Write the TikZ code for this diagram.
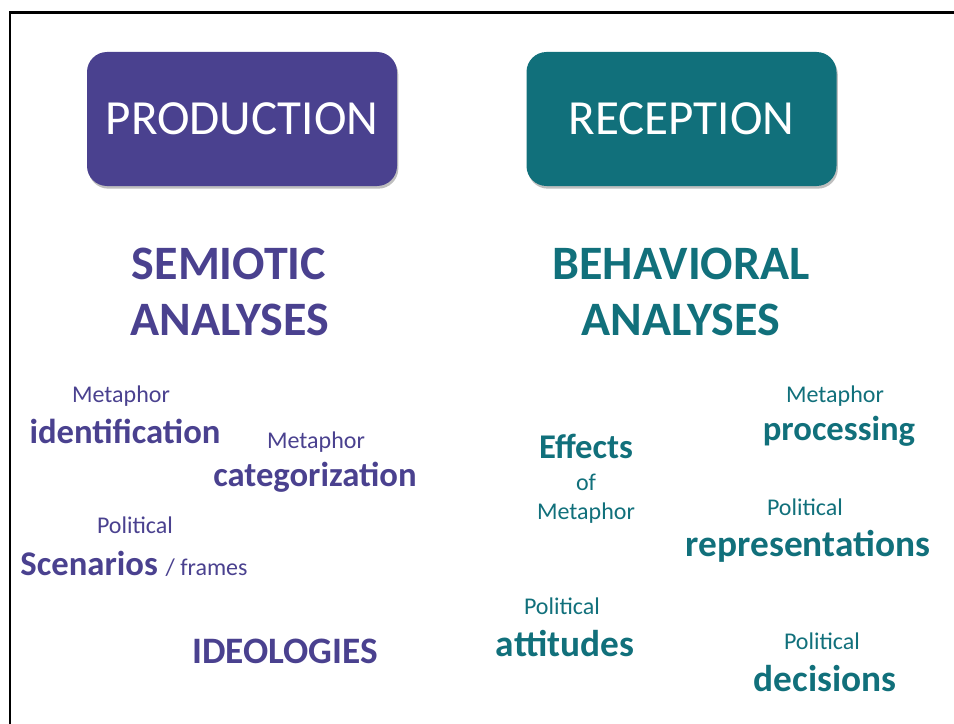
\documentclass[tikz,border=0pt]{standalone}
\usepackage{fontspec}
\setmainfont{Carlito}
\usetikzlibrary{shadows}
\definecolor{prodc}{RGB}{74,65,143}
\definecolor{recc}{RGB}{17,112,123}
\begin{document}
\begin{tikzpicture}[x=0.75pt,y=-0.75pt,
  sm/.style={font=\fontsize{18}{20}\selectfont, anchor=base, inner sep=0pt},
  bg/.style={font=\bfseries\fontsize{26}{28}\selectfont, anchor=base, inner sep=0pt},
  bgl/.style={font=\bfseries\fontsize{28}{30}\selectfont, anchor=base, inner sep=0pt},
  headst/.style={font=\bfseries\fontsize{36}{40}\selectfont, anchor=base, inner sep=0pt},
  boxst/.style={rounded corners=15pt, minimum width=232.5pt, minimum height=100.5pt,
    text=white, font=\fontsize{36.8}{40}\selectfont, inner sep=0pt,
    drop shadow={shadow xshift=1pt, shadow yshift=-2pt, opacity=0.25, fill=black}}]
\useasboundingbox (0,0) rectangle (954,724);
\draw[line width=1.9pt, line cap=rect] (954,12.5) -- (10,12.5) -- (10,724);
% boxes
\node[boxst, fill=prodc] (prod) at (242,119) {PRODUCTION};
\node[boxst, fill=recc] (rec) at (681.5,119) {RECEPTION};
% headings
\node[headst, text=prodc] (semi) at (229,279) {SEMIOTIC};
\node[headst, text=prodc] (semian) at (230,335) {ANALYSES};
\node[headst, text=recc] (beh) at (681,279) {BEHAVIORAL};
\node[headst, text=recc] (behan) at (681,335) {ANALYSES};
% left items
\node[sm, text=prodc] (m1) at (121,402) {Metaphor};
\node[bg, text=prodc] (ident) at (125,443) {identification};
\node[sm, text=prodc] (m2) at (316,448) {Metaphor};
\node[bg, text=prodc] (categ) at (315,486) {categorization};
\node[sm, text=prodc] (pol1) at (135,533) {Political};
\node[bg, text=prodc] (scen) at (134,575) {Scenarios {\mdseries\fontsize{18}{20}\selectfont / frames}};
\node[bgl, text=prodc] (ideo) at (285,663) {IDEOLOGIES};
% right items
\node[bg, text=recc] (eff) at (586,458) {Effects};
\node[sm, text=recc] (of) at (586,490) {of};
\node[sm, text=recc] (m3) at (586,519) {Metaphor};
\node[sm, text=recc] (m4) at (835,402) {Metaphor};
\node[bg, text=recc] (proc) at (839,440) {processing};
\node[sm, text=recc] (pol2) at (805,515) {Political};
\node[bgl, text=recc] (repr) at (808,556) {representations};
\node[sm, text=recc] (pol3) at (562,614) {Political};
\node[bgl, text=recc] (att) at (565,656) {attitudes};
\node[sm, text=recc] (pol4) at (822,649) {Political};
\node[bgl, text=recc] (dec) at (825,691) {decisions};
\end{tikzpicture}
\end{document}
